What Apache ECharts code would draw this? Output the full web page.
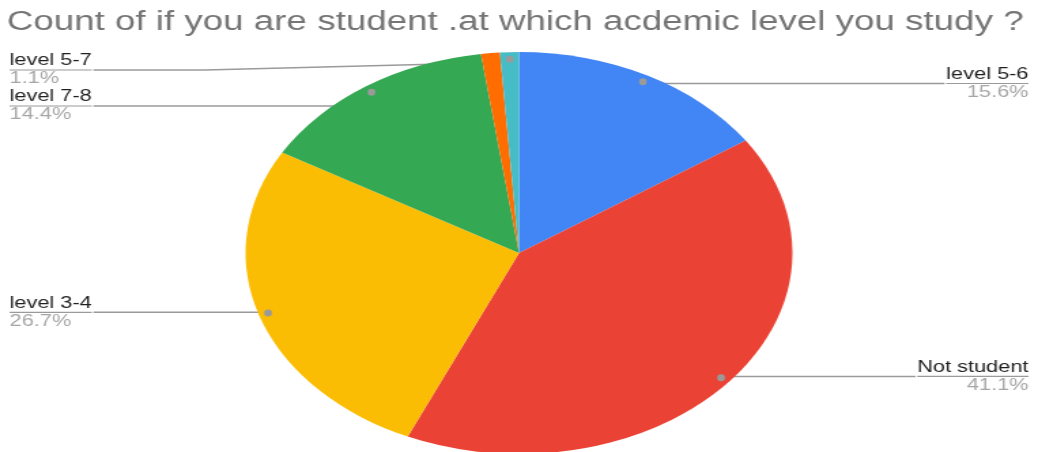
<!DOCTYPE html>
<html>
<head>
<meta charset="utf-8">
<script src="https://cdn.jsdelivr.net/npm/echarts@6/dist/echarts.min.js"></script>
<style>
  html, body { margin: 0; padding: 0; background: #ffffff; overflow: hidden; }
  /* the chart is laid out narrower and widened, giving the oval pie */
  #chart { width: 763px; height: 452px; transform: scaleX(1.3604); transform-origin: 0 0; }
</style>
</head>
<body>
<div id="chart"></div>
<script>
// Responses per academic level (clockwise from 12 o'clock)
const categories = ['level 5-6', 'Not student', 'level 3-4', 'level 7-8', 'other', 'level 5-7'];
const counts     = [14, 37, 24, 13, 1, 1];
const colors     = ['#4285F4', '#EA4335', '#FBBC04', '#34A853', '#FF6D01', '#46BDC6'];
const labelled   = [true, true, true, true, false, true];
const titleText  = 'Count of if you are student .at which acdemic level you study ?';

const FONT = "'Liberation Sans', Arial, sans-serif";
const CENTER = [381.5, 253];
const R = 201;
// callouts stay below this line (keeps them clear of the title)
const CALLOUT_TOP = 52;

const chart = echarts.init(document.getElementById('chart'), null, { renderer: 'canvas' });

const sliceData = categories.map((name, i) => ({
  name, value: counts[i], itemStyle: { color: colors[i] }
}));

// transparent copy of the slices used to place the callouts
const calloutData = categories.map((name, i) => ({
  name, value: counts[i],
  label: { show: labelled[i] },
  labelLine: { show: labelled[i] }
}));

chart.setOption({
  animation: false,
  title: {
    text: titleText,
    left: 5,
    top: 9,
    padding: 0,
    textStyle: { fontFamily: FONT, fontSize: 27, fontWeight: 'normal', color: '#757575' }
  },
  series: [
    {
      type: 'pie',
      center: CENTER,
      radius: R,
      startAngle: 90,
      clockwise: true,
      silent: true,
      label: { show: false },
      labelLine: { show: false },
      data: sliceData
    },
    {
      type: 'pie',
      left: 0,
      right: 0,
      top: CALLOUT_TOP,
      bottom: 0,
      center: [CENTER[0], CENTER[1] - CALLOUT_TOP],
      radius: R * 0.95,
      startAngle: 90,
      clockwise: true,
      silent: true,
      percentPrecision: 1,
      avoidLabelOverlap: true,
      itemStyle: { color: 'rgba(0,0,0,0)' },
      label: {
        position: 'outer',
        alignTo: 'edge',
        edgeDistance: 7,
        distanceToLabelLine: 0,
        formatter: '{n|{b}}\n{hr|}\n{p|{d}%}',
        rich: {
          n:  { fontFamily: FONT, fontSize: 16, lineHeight: 18, color: '#1f1f1f' },
          hr: { width: '100%', height: 0, borderWidth: 1.2, borderColor: '#9a9a9a' },
          p:  { fontFamily: FONT, fontSize: 16, lineHeight: 18, color: '#a6a6a6' }
        }
      },
      labelLine: {
        show: true,
        length: 1,
        length2: 20,
        lineStyle: { color: '#9a9a9a', width: 1.5 }
      },
      data: calloutData
    },
    {
      type: 'pie',
      center: CENTER,
      radius: [R * 0.9, R],
      startAngle: 90,
      clockwise: true,
      silent: true,
      itemStyle: { color: 'rgba(0,0,0,0)' },
      label: {
        position: 'inside',
        formatter: '{d|}',
        rich: { d: { width: 5.5, height: 7, borderRadius: 3.5, backgroundColor: '#9a9a9a' } }
      },
      labelLine: { show: false },
      data: calloutData.map(d => ({ name: d.name, value: d.value, label: { show: d.label.show } }))
    }
  ]
});
</script>
</body>
</html>
